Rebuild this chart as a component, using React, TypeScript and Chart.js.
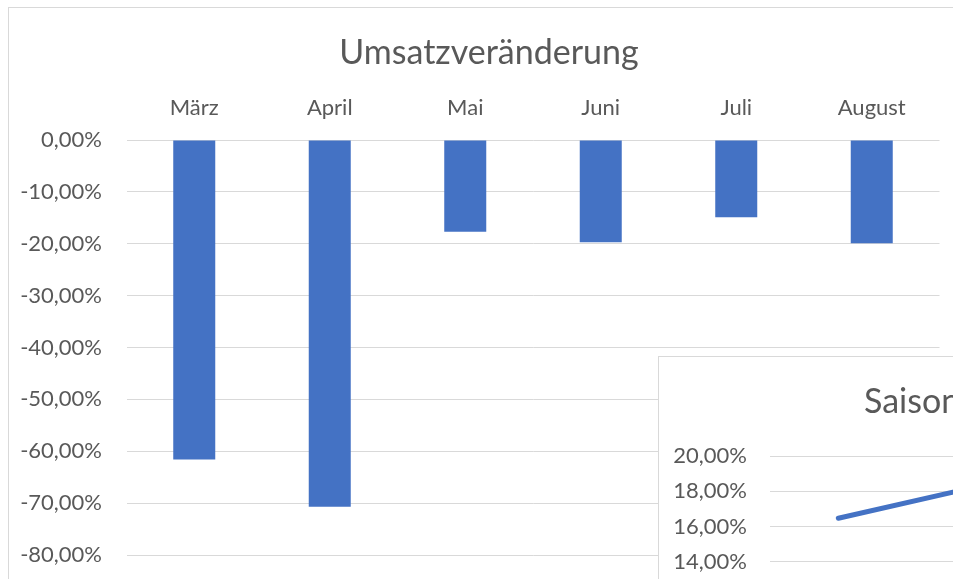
import React, { useEffect, useRef } from "react";
import { Chart, registerables } from "chart.js";

Chart.register(...registerables);

// ---------- data ----------
const MONTHS = ["März", "April", "Mai", "Juni", "Juli", "August"];
const UMSATZ_CHANGE = [-61.6, -70.7, -17.7, -19.7, -14.9, -19.9];
const MAIN_Y_MIN = -80;
const MAIN_Y_MAX = 0;
const MAIN_Y_STEP = 10;
const MAIN_TITLE = "Umsatzveränderung";

// only the first two points of the second (partly hidden) chart are visible
const SEASON_VALUES = [16.47, 18.24];
const INSET_Y_MIN = 10;
const INSET_Y_MAX = 20;
const INSET_Y_STEP = 2;
const INSET_TITLE = "Saisonbereinigte Umsatzveränderung";

// ---------- styles ----------
const FONT = "Lato, 'Open Sans', sans-serif";
const TEXT = "#595959";
const GRID = "#d9d9d9";
const BLUE = "#4472C4";
const TITLE_SIZE = 34;
const TICK_SIZE = 22;

const fmt = (v: number) => v.toFixed(2).replace(".", ",") + "%";

function MainChart() {
  const ref = useRef<HTMLCanvasElement>(null);
  useEffect(() => {
    const chart = new Chart(ref.current!, {
      type: "bar",
      data: {
        labels: MONTHS,
        datasets: [
          {
            data: UMSATZ_CHANGE,
            backgroundColor: BLUE,
            categoryPercentage: 1,
            barPercentage: 0.31,
          },
        ],
      },
      options: {
        responsive: false,
        animation: false,
        devicePixelRatio: 1,
        layout: { padding: { top: 0, left: 0, right: 0, bottom: 73 } },
        plugins: {
          legend: { display: false },
          tooltip: { enabled: false },
          title: {
            display: true,
            text: MAIN_TITLE,
            color: TEXT,
            font: { family: FONT, size: TITLE_SIZE, weight: "normal", lineHeight: 1.2 },
            padding: { top: 24.2, bottom: 0 },
          },
        },
        scales: {
          x: {
            position: "top",
            grid: { display: false, drawTicks: false },
            border: { display: false },
            ticks: { color: TEXT, font: { family: FONT, size: TICK_SIZE }, padding: 18.8 },
            afterFit: (s: any) => {
              s.height = 67;
            },
          },
          y: {
            min: MAIN_Y_MIN,
            max: MAIN_Y_MAX,
            grid: { color: GRID, lineWidth: 1, drawTicks: false },
            border: { display: false },
            ticks: {
              stepSize: MAIN_Y_STEP,
              color: TEXT,
              font: { family: FONT, size: TICK_SIZE },
              padding: 24.5,
              callback: (v: any) => fmt(Number(v)),
            },
            afterFit: (s: any) => {
              s.width = 117.5;
            },
          },
          // empty right-hand margin of the plot area (keeps the title centred on the whole chart)
          yRight: {
            position: "right",
            grid: { display: false, drawTicks: false },
            border: { display: false },
            ticks: { display: false },
            afterFit: (s: any) => {
              s.width = 29.5;
            },
          },
        },
      },
    });
    return () => chart.destroy();
  }, []);
  return <canvas ref={ref} width={960} height={620} style={{ display: "block" }} />;
}

const insetTitlePlugin = {
  id: "insetTitle",
  afterDraw(chart: any) {
    const { ctx } = chart;
    ctx.save();
    ctx.font = `normal ${TITLE_SIZE}px ${FONT}`;
    ctx.fillStyle = TEXT;
    ctx.textAlign = "left";
    ctx.textBaseline = "middle";
    ctx.fillText(INSET_TITLE, 205, 45);
    ctx.restore();
  },
};

function InsetChart() {
  const ref = useRef<HTMLCanvasElement>(null);
  useEffect(() => {
    const chart = new Chart(ref.current!, {
      type: "line",
      data: {
        labels: MONTHS,
        datasets: [
          {
            data: SEASON_VALUES,
            borderColor: BLUE,
            borderWidth: 5,
            pointRadius: 0,
            borderCapStyle: "round",
            tension: 0,
            fill: false,
          },
        ],
      },
      options: {
        responsive: false,
        animation: false,
        devicePixelRatio: 1,
        layout: { padding: { top: 99, left: 0, right: 29, bottom: 24.5 } },
        plugins: {
          legend: { display: false },
          tooltip: { enabled: false },
          title: { display: false },
        },
        scales: {
          x: {
            position: "bottom",
            offset: true,
            grid: { display: false, drawTicks: false },
            border: { display: false },
            ticks: { color: TEXT, font: { family: FONT, size: TICK_SIZE }, padding: 10 },
            afterFit: (s: any) => {
              s.height = 40;
            },
          },
          y: {
            min: INSET_Y_MIN,
            max: INSET_Y_MAX,
            grid: { color: GRID, lineWidth: 1, drawTicks: false },
            border: { display: false },
            ticks: {
              stepSize: INSET_Y_STEP,
              color: TEXT,
              font: { family: FONT, size: TICK_SIZE },
              padding: 23,
              callback: (v: any) => fmt(Number(v)),
            },
            afterFit: (s: any) => {
              s.width = 111;
            },
          },
        },
      },
      plugins: [insetTitlePlugin],
    });
    return () => chart.destroy();
  }, []);
  return <canvas ref={ref} width={960} height={340} style={{ display: "block" }} />;
}

export default function App() {
  return (
    <div style={{ position: "fixed", inset: 0, overflow: "hidden", background: "#fff" }}>
      <div
        style={{
          position: "absolute",
          left: 8,
          top: 7,
          border: `1px solid ${GRID}`,
          background: "#fff",
          lineHeight: 0,
        }}
      >
        <MainChart />
      </div>
      <div
        style={{
          position: "absolute",
          left: 658,
          top: 356,
          border: `1px solid ${GRID}`,
          background: "#fff",
          lineHeight: 0,
        }}
      >
        <InsetChart />
      </div>
    </div>
  );
}
